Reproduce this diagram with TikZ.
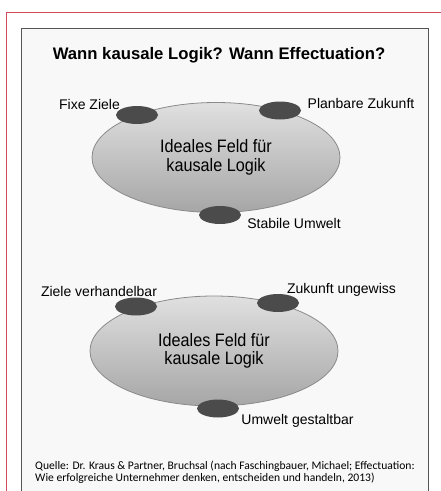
\documentclass[tikz,border=0pt]{standalone}
\usepackage{fontspec}
\setmainfont{Liberation Sans}
\newfontfamily\fieldfont{Liberation Sans}[FakeStretch=0.9]
\newfontfamily\srcfont{Carlito}
\usetikzlibrary{shapes.geometric}
\definecolor{framered}{HTML}{D24A5C}
\definecolor{framegray}{HTML}{555555}
\definecolor{panel}{HTML}{F8F8F8}
\definecolor{fieldtop}{HTML}{E0E0E0}
\definecolor{fieldbottom}{HTML}{A6A6A6}
\definecolor{fieldedge}{HTML}{8A8A8A}
\definecolor{blob}{HTML}{4B4B4B}
\tikzset{
  field/.style={ellipse, draw=fieldedge, line width=0.8pt,
    top color=fieldtop, bottom color=fieldbottom,
    minimum width=248pt, minimum height=110pt, inner sep=0pt,
    align=center, font=\fieldfont\fontsize{18}{18.5}\selectfont},
  blobmark/.style={ellipse, fill=blob, minimum width=42pt,
    minimum height=18pt, inner sep=0pt},
  tag/.style={anchor=base, inner sep=0pt, font=\fontsize{14}{16}\selectfont},
  headline/.style={anchor=base, inner sep=0pt, font=\bfseries\fontsize{16.7}{18}\selectfont},
  source/.style={anchor=base west, inner sep=0pt, font=\srcfont\fontsize{11.6}{12}\selectfont}
}
\begin{document}
\begin{tikzpicture}[x=1pt,y=-1pt]
\useasboundingbox (0,0) rectangle (441,491);
% outer page rules and panel frame
\draw[framered, line width=1.2pt] (441,12.5) -- (6.5,12.5) -- (6.5,491);
\draw[framegray, line width=1pt, fill=panel] (21.5,28.5) rectangle (428.5,496);

\node[headline] (title) at (219,59) {Wann kausale Logik? Wann Effectuation?};

% upper field
\node[field] (fieldA) at (216,157.5) {Ideales Feld für\\kausale Logik};
\node[blobmark] (goalA) at (137,115) {};
\node[blobmark] (futureA) at (280,110.5) {};
\node[blobmark] (envA) at (220,215) {};
\node[tag] (goalAtext) at (89.5,109) {Fixe Ziele};
\node[tag] (futureAtext) at (361,108) {Planbare Zukunft};
\node[tag] (envAtext) at (294,228) {Stabile Umwelt};

% lower field
\node[field] (fieldB) at (214,351) {Ideales Feld für\\kausale Logik};
\node[blobmark] (goalB) at (136,306.5) {};
\node[blobmark] (futureB) at (278,303) {};
\node[blobmark] (envB) at (218,408.5) {};
\node[tag] (goalBtext) at (99,296) {Ziele verhandelbar};
\node[tag] (futureBtext) at (341.5,293) {Zukunft ungewiss};
\node[tag] (envBtext) at (297.5,424) {Umwelt gestaltbar};

% source note
\node[source] (src1) at (35,469) {Quelle: Dr. Kraus \& Partner, Bruchsal (nach Faschingbauer, Michael; Effectuation:};
\node[source] (src2) at (35,481) {Wie erfolgreiche Unternehmer denken, entscheiden und handeln, 2013)};
\end{tikzpicture}
\end{document}
